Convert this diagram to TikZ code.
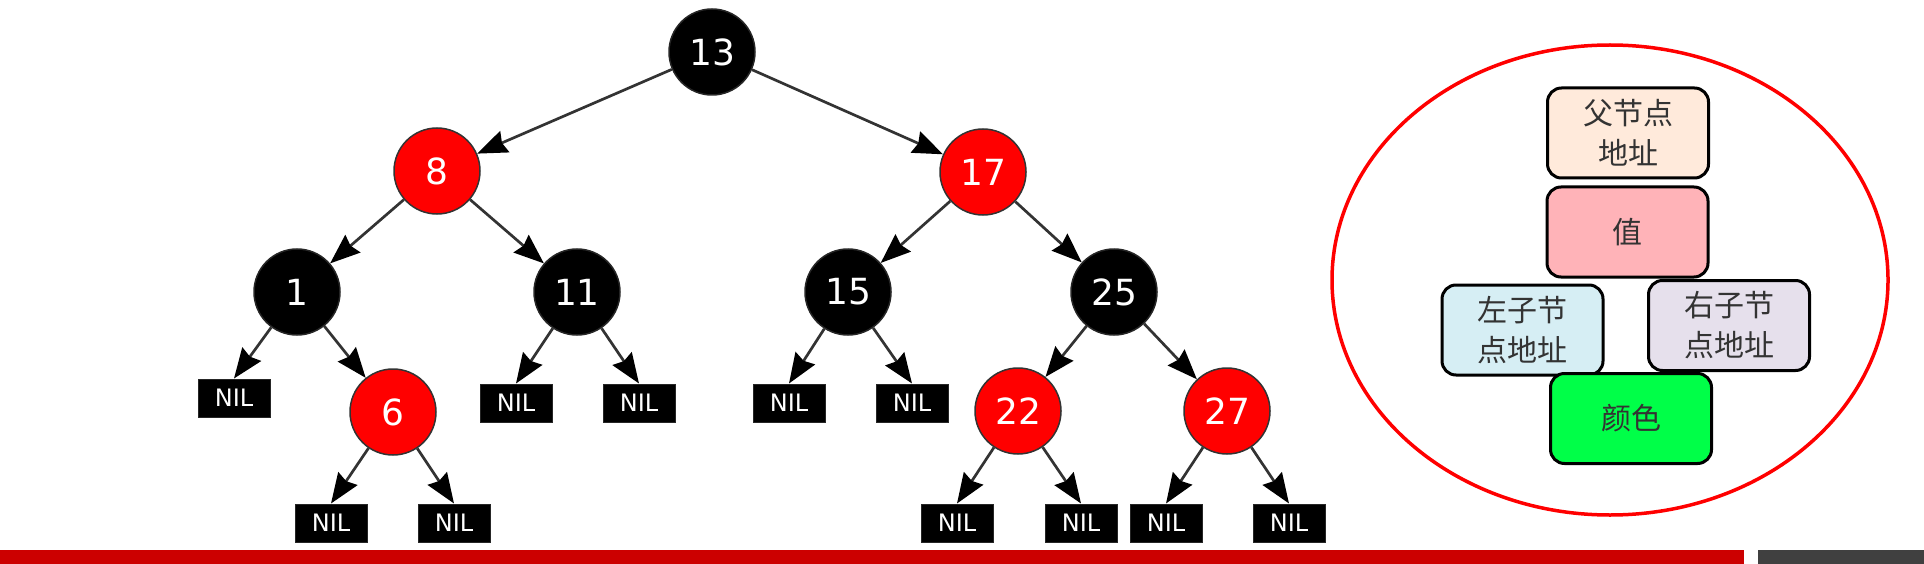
\documentclass[tikz,border=0pt]{standalone}
\usepackage{fontspec}
\setmainfont{DejaVu Sans}
\newfontfamily\cjk{Noto Sans CJK SC}
\usetikzlibrary{arrows.meta,shapes.geometric}
\definecolor{nodered}{HTML}{FF0000}
\definecolor{edgegray}{HTML}{333333}
\definecolor{barred}{HTML}{CC0000}
\definecolor{bargray}{HTML}{404040}
\definecolor{cpeach}{HTML}{FFEADB}
\definecolor{cpink}{HTML}{FFB3B8}
\definecolor{cblue}{HTML}{D6EEF4}
\definecolor{clilac}{HTML}{E6E0EC}
\definecolor{cgreen}{HTML}{00FF48}
\definecolor{ctext}{HTML}{333333}
\tikzset{
  rbnode/.style={circle, minimum size=86pt, inner sep=0pt, text=white,
    font=\fontsize{36}{40}\selectfont, line width=1.5pt},
  blknode/.style={rbnode, fill=black, draw=black!85},
  rednode/.style={rbnode, fill=nodered, draw=edgegray},
  nil/.style={rectangle, fill=black, draw=black!85, line width=1pt,
    minimum width=72pt, minimum height=38pt, inner sep=0pt, text=white,
    font=\fontsize{24}{26}\selectfont},
  edge/.style={draw=edgegray, line width=2.7pt,
    -{Stealth[length=30pt,width=23pt,inset=3pt,color=black]}},
  fieldbox/.style={draw=black, line width=3pt, rounded corners=14pt,
    minimum width=161pt, minimum height=90pt, inner sep=0pt, align=center,
    text=ctext, font=\cjk\fontsize{30}{40}\selectfont},
}
\begin{document}
\begin{tikzpicture}[x=1pt,y=-1pt]
\useasboundingbox (0,0) rectangle (1924,564);
% tree nodes
\node[blknode] (n13) at (712,52) {13};
\node[rednode] (n8) at (437,171) {8};
\node[rednode] (n17) at (983,172) {17};
\node[blknode] (n1) at (297,292) {1};
\node[blknode] (n11) at (577,292) {11};
\node[blknode] (n15) at (848,292) {15};
\node[blknode] (n25) at (1114,292) {25};
\node[rednode] (n6) at (393,412) {6};
\node[rednode] (n22) at (1018,411) {22};
\node[rednode] (n27) at (1227,411) {27};
% NIL leaves
\node[nil] (l1) at (234,398) {NIL};
\node[nil] (l6a) at (331,523) {NIL};
\node[nil] (l6b) at (454,523) {NIL};
\node[nil] (l11a) at (516,403) {NIL};
\node[nil] (l11b) at (639,403) {NIL};
\node[nil] (l15a) at (789,403) {NIL};
\node[nil] (l15b) at (912,403) {NIL};
\node[nil] (l22a) at (957,523) {NIL};
\node[nil] (l22b) at (1081,523) {NIL};
\node[nil] (l27a) at (1166,523) {NIL};
\node[nil] (l27b) at (1289,523) {NIL};
% edges
\draw[edge] (n13) -- (n8);
\draw[edge] (n13) -- (n17);
\draw[edge] (n8) -- (n1);
\draw[edge] (n8) -- (n11);
\draw[edge] (n17) -- (n15);
\draw[edge] (n17) -- (n25);
\draw[edge] (n1) -- (l1.north);
\draw[edge] (n1) -- (n6);
\draw[edge] (n6) -- (l6a.north);
\draw[edge] (n6) -- (l6b.north);
\draw[edge] (n11) -- (l11a.north);
\draw[edge] (n11) -- (l11b.north);
\draw[edge] (n15) -- (l15a.north);
\draw[edge] (n15) -- (l15b.north);
\draw[edge] (n25) -- (n22);
\draw[edge] (n25) -- (n27);
\draw[edge] (n22) -- (l22a.north);
\draw[edge] (n22) -- (l22b.north);
\draw[edge] (n27) -- (l27a.north);
\draw[edge] (n27) -- (l27b.north);
% node structure
\node[draw=nodered, line width=3.5pt, ellipse, minimum width=556pt, minimum height=470pt, inner sep=0pt] (outline) at (1610,280) {};
\node[fieldbox, fill=cpeach] (parent) at (1628,133) {父节点\\地址};
\node[fieldbox, fill=cpink] (value) at (1627.5,232) {值};
\node[fieldbox, fill=cblue] (left) at (1522.5,330) {左子节\\点地址};
\node[fieldbox, fill=clilac] (right) at (1729,325.5) {右子节\\点地址};
\node[fieldbox, fill=cgreen] (color) at (1631,418.5) {颜色};
% bottom bars
\fill[barred] (0,550) rectangle (1744,564);
\fill[bargray] (1758,550) rectangle (1924,564);
\end{tikzpicture}
\end{document}
